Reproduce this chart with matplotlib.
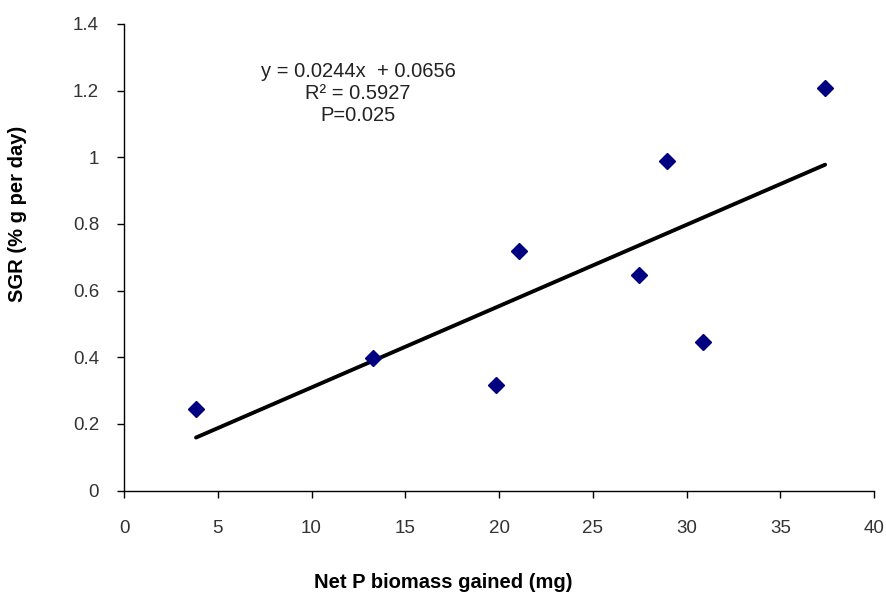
import numpy as np
import matplotlib.pyplot as plt

plt.rcParams['font.family'] = ['Liberation Sans', 'DejaVu Sans']

# Net P biomass gained (mg) vs specific growth rate
p_gained = np.array([3.84, 13.28, 19.84, 21.07, 27.47, 28.96, 30.88, 37.39])
sgr = np.array([0.246, 0.399, 0.318, 0.719, 0.647, 0.989, 0.447, 1.208])

slope = 0.0244
intercept = 0.0656
r2_text = "0.5927"
p_text = "0.025"

fig = plt.figure(figsize=(8.86, 5.94), dpi=100)
ax = fig.add_axes([0.14, 0.174, 0.8465, 0.7856])

ax.plot(p_gained, sgr, linestyle='none', marker='D', markersize=8.5,
        color='#000080', zorder=3)

fit_x = np.array([p_gained.min(), p_gained.max()])
ax.plot(fit_x, slope * fit_x + intercept, color='black', linewidth=2.8,
        solid_capstyle='round', zorder=2)

ax.text(0.312, 0.918, f"y = {slope}x  + {intercept}\nR² = {r2_text}\nP={p_text}",
        transform=ax.transAxes, ha='center', va='top', fontsize=14.5,
        linespacing=1.2, color='#222222')

ax.set_xlim(0, 40)
ax.set_ylim(0, 1.4)
ax.set_xticks(np.arange(0, 41, 5))
ax.set_yticks(np.arange(0, 1.41, 0.2))
ax.set_yticklabels(['0', '0.2', '0.4', '0.6', '0.8', '1', '1.2', '1.4'])

for side in ('top', 'right'):
    ax.spines[side].set_visible(False)
for side in ('left', 'bottom'):
    ax.spines[side].set_linewidth(1.0)

ax.tick_params(direction='out', length=5, width=1, labelsize=13.5,
               labelcolor='#333333')
ax.tick_params(axis='y', pad=13)
ax.tick_params(axis='x', pad=16)

fig.text(443 / 886, 1 - 583 / 594, 'Net P biomass gained (mg)', fontsize=14.5,
         fontweight='bold', ha='center', va='center')
fig.text(18 / 886, 1 - 214 / 594, 'SGR (% g per day)', fontsize=14.5,
         fontweight='bold', ha='center', va='center', rotation=90)

fig.savefig('out.png', dpi=100)
